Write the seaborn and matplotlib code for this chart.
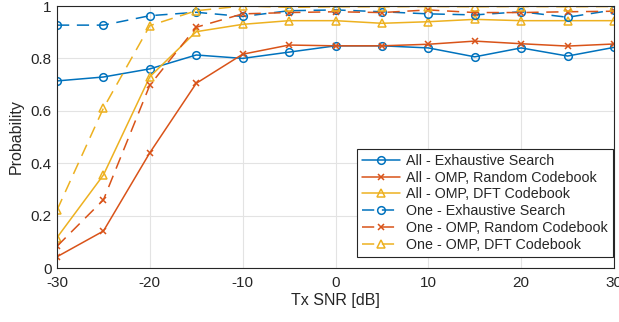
import numpy as np
import pandas as pd
import matplotlib
matplotlib.use("Agg")
import matplotlib.pyplot as plt
import seaborn as sns

snr = [-30, -25, -20, -15, -10, -5, 0, 5, 10, 15, 20, 25, 30]

all_exh = [0.714, 0.729, 0.760, 0.813, 0.800, 0.824, 0.848, 0.848, 0.840, 0.806, 0.840, 0.809, 0.842]
all_omp_rand = [0.043, 0.141, 0.440, 0.705, 0.816, 0.851, 0.848, 0.848, 0.854, 0.866, 0.856, 0.847, 0.855]
all_omp_dft = [0.116, 0.355, 0.730, 0.902, 0.930, 0.944, 0.944, 0.934, 0.940, 0.949, 0.944, 0.944, 0.944]
one_exh = [0.927, 0.927, 0.963, 0.976, 0.960, 0.982, 0.985, 0.978, 0.970, 0.966, 0.978, 0.957, 0.985]
one_omp_rand = [0.083, 0.260, 0.698, 0.919, 0.970, 0.975, 0.978, 0.975, 0.985, 0.975, 0.975, 0.978, 0.980]
one_omp_dft = [0.221, 0.610, 0.925, 0.982, 1.000, 0.995, 0.997, 0.997, 0.998, 0.997, 0.998, 0.997, 0.998]

labels = ["All - Exhaustive Search", "All - OMP, Random Codebook", "All - OMP, DFT Codebook",
          "One - Exhaustive Search", "One - OMP, Random Codebook", "One - OMP, DFT Codebook"]
series = [all_exh, all_omp_rand, all_omp_dft, one_exh, one_omp_rand, one_omp_dft]
colors = ["#0072BD", "#D95319", "#EDB120", "#0072BD", "#D95319", "#EDB120"]
markers = ["o", "x", "^", "o", "x", "^"]
dashed = [False, False, False, True, True, True]

sns.set_theme(style="whitegrid")
plt.rcParams['font.family'] = ['Liberation Sans', 'DejaVu Sans']
plt.rcParams['axes.unicode_minus'] = False

fig = plt.figure(figsize=(6.19, 3.22), dpi=100)
ax = fig.add_axes([57/619, 1 - 268/322, (614-57)/619, (268-6)/322])

for lab, vals, c, m, d in zip(labels, series, colors, markers, dashed):
    df = pd.DataFrame({"snr": snr, "p": vals})
    sns.lineplot(data=df, x="snr", y="p", ax=ax, color=c, marker=m, label=lab,
                 linewidth=1.1, markersize=5.5 if m != "x" else 4.5,
                 markerfacecolor="none" if m != "x" else c,
                 markeredgecolor=c, markeredgewidth=1.1,
                 linestyle=(0, (8, 5)) if d else "-")

ax.set_xlim(-30, 30)
ax.set_ylim(0, 1)
ax.set_xticks(range(-30, 31, 10))
ax.set_yticks([0, 0.2, 0.4, 0.6, 0.8, 1.0])
ax.set_yticklabels(["0", "0.2", "0.4", "0.6", "0.8", "1"])
ax.set_xlabel("Tx SNR [dB]", fontsize=11.5, color="#262626", labelpad=2)
ax.set_ylabel("Probability", fontsize=11.5, color="#262626", labelpad=5)
ax.tick_params(axis="x", labelsize=11, colors="#262626", direction="in", length=3, pad=6)
ax.tick_params(axis="y", labelsize=11, colors="#262626", direction="in", length=3, pad=4)
ax.grid(True, color="#e3e3e3", linewidth=0.8)
ax.set_facecolor("white")
for s in ax.spines.values():
    s.set_visible(True)
    s.set_color("#262626")
    s.set_linewidth(0.8)

leg = ax.legend(loc="lower right", fontsize=10.3, frameon=True, fancybox=False,
                edgecolor="#262626", framealpha=1, borderpad=0.35, labelspacing=0.2,
                handlelength=2.7, handletextpad=0.4, borderaxespad=0,
                bbox_to_anchor=(0.998, 0.042))
leg.get_frame().set_linewidth(0.8)

fig.savefig("out.png", dpi=100)
